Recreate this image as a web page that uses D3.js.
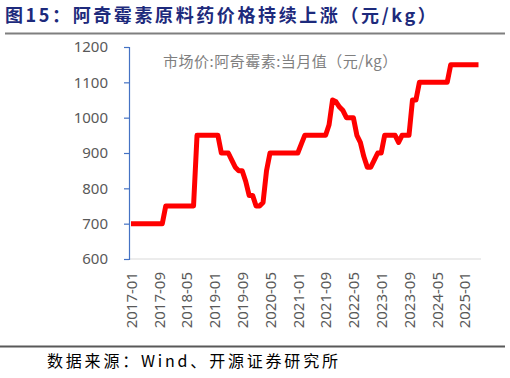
<!DOCTYPE html>
<html>
<head>
<meta charset="utf-8">
<script src="https://cdn.jsdelivr.net/npm/d3@7"></script>
<style>
  body { margin: 0; background: #fff; }
  svg { display: block; }
</style>
</head>
<body>
<svg id="chart" width="510" height="378"></svg>
<script>
// monthly categories 2017-01 .. 2025-05
var months = d3.timeMonth.range(new Date(2017, 0, 1), new Date(2025, 5, 1)).map(d3.timeFormat("%Y-%m"));

// 市场价:阿奇霉素:当月值（元/kg）
var prices = [
    700, 700, 700, 700, 700, 700, 700, 700, 700, 700,
    750, 750, 750, 750, 750, 750, 750, 750, 750,
    950, 950, 950, 950, 950, 950, 950,
    900, 900, 900, 880, 860, 850, 850, 820, 780, 780, 750, 750, 760, 850,
    900, 900, 900, 900, 900, 900, 900, 900, 900, 925,
    950, 950, 950, 950, 950, 950, 950,
    980, 1050, 1045, 1030, 1020, 1000, 1000, 1000,
    950, 930, 890, 860, 860, 880, 900, 900,
    950, 950, 950, 950, 930, 950, 950, 950,
    1050, 1050,
    1100, 1100, 1100, 1100, 1100, 1100, 1100, 1100, 1100,
    1150, 1150, 1150, 1150, 1150, 1150, 1150, 1150, 1150
];

var xTicks = ["2017-01", "2017-09", "2018-05", "2019-01", "2019-09", "2020-05", "2021-01",
              "2021-09", "2022-05", "2023-01", "2023-09", "2024-05", "2025-01"];
var yTicks = [600, 700, 800, 900, 1000, 1100, 1200];

var titleText = "图15：阿奇霉素原料药价格持续上涨（元/kg）",
    seriesName = "市场价:阿奇霉素:当月值（元/kg）",
    sourceText = "数据来源：Wind、开源证券研究所";

var data = months.map(function(m, i) { return { month: m, value: prices[i] }; });

var svg = d3.select("#chart");
var numFont = "'Noto Sans', 'Liberation Sans', sans-serif",
    cjkFont = "'Noto Sans CJK SC', 'Noto Sans', sans-serif";

// header
svg.append("text")
    .attr("x", 5)
    .attr("y", 22)
    .attr("font-family", "'Noto Sans CJK SC', serif")
    .attr("font-weight", 700)
    .attr("font-size", "18px")
    .attr("letter-spacing", "2.6px")
    .attr("fill", "#1d2a7c")
    .text(titleText);

svg.append("line")
    .attr("x1", 5).attr("x2", 505)
    .attr("y1", 33.5).attr("y2", 33.5)
    .attr("stroke", "#7f7f7f")
    .attr("stroke-width", 2);

var x = d3.scalePoint()
    .domain(months)
    .range([131, 478.5]);

var y = d3.scaleLinear()
    .domain([600, 1200])
    .range([259, 47]);

// x axis
var xAxis = svg.append("g")
    .attr("transform", "translate(0,259)")
    .call(d3.axisBottom(x).tickValues(xTicks).tickSize(0).tickPadding(0));
xAxis.select(".domain")
    .attr("d", "M129,0H481")
    .attr("stroke", "#d9d9d9")
    .attr("stroke-width", 1.2);
xAxis.selectAll("text")
    .attr("transform", "rotate(-90)")
    .attr("text-anchor", "end")
    .attr("x", -13)
    .attr("y", 0)
    .attr("dy", "0.35em")
    .attr("font-family", numFont)
    .attr("font-size", "15px")
    .attr("fill", "#595959");

// y axis
var yAxis = svg.append("g")
    .attr("transform", "translate(129,0)")
    .call(d3.axisLeft(y).tickValues(yTicks).tickFormat(d3.format("d"))
        .tickSize(5).tickSizeOuter(5).tickPadding(16));
yAxis.select(".domain")
    .attr("stroke", "#4472c4")
    .attr("stroke-width", 1.2);
yAxis.selectAll(".tick line")
    .attr("stroke", "#4472c4")
    .attr("stroke-width", 1.2);
yAxis.selectAll("text")
    .attr("font-family", numFont)
    .attr("font-size", "15px")
    .attr("fill", "#595959");

// series
var line = d3.line()
    .x(function(d) { return x(d.month); })
    .y(function(d) { return y(d.value); });

svg.append("path")
    .datum(data)
    .attr("d", line)
    .attr("fill", "none")
    .attr("stroke", "#ff0000")
    .attr("stroke-width", 5)
    .attr("stroke-linejoin", "round");

svg.append("text")
    .attr("x", 163)
    .attr("y", 67)
    .attr("font-family", cjkFont)
    .attr("font-size", "15px")
    .attr("letter-spacing", "0.5px")
    .attr("fill", "#7f7f7f")
    .text(seriesName);

// footer
svg.append("line")
    .attr("x1", 0).attr("x2", 505)
    .attr("y1", 346.5).attr("y2", 346.5)
    .attr("stroke", "#595959")
    .attr("stroke-width", 2);

svg.append("text")
    .attr("x", 47)
    .attr("y", 367)
    .attr("font-family", "'Noto Sans CJK SC', 'Liberation Serif', serif")
    .attr("font-size", "16px")
    .attr("letter-spacing", "2.8px")
    .attr("fill", "#000")
    .text(sourceText);
</script>
</body>
</html>
